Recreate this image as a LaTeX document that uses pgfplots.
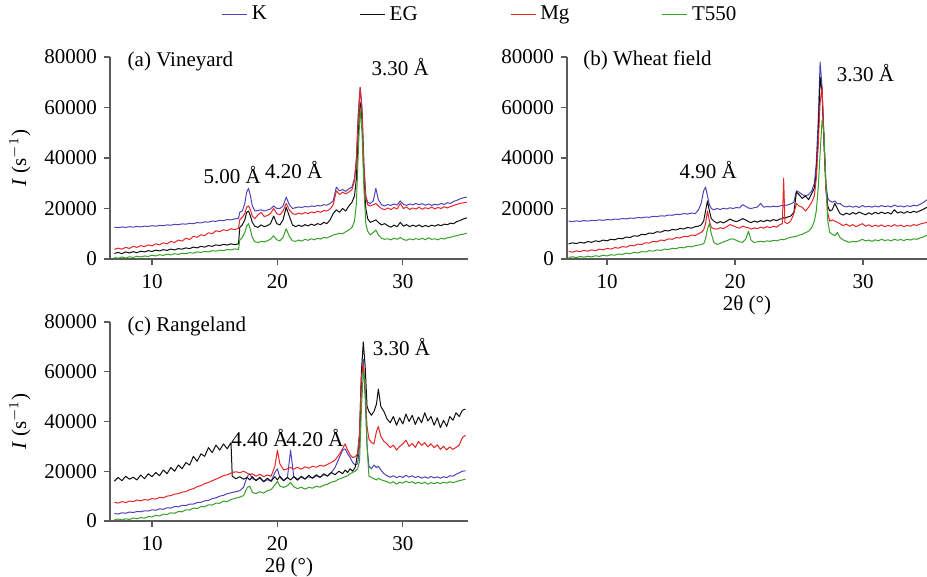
\documentclass[border=0pt]{standalone}
\usepackage{fontspec}
\setmainfont{Liberation Serif}
\usepackage{pgfplots}
\usepackage{pgfplotstable}
\pgfplotsset{compat=1.18}

\definecolor{cK}{RGB}{78,68,185}
\definecolor{cEG}{RGB}{15,15,15}
\definecolor{cMg}{RGB}{228,38,38}
\definecolor{cT}{RGB}{55,160,40}
\definecolor{axgray}{RGB}{90,90,90}

\newcommand{\lblfont}{\rmfamily\fontsize{10.5}{12}\selectfont}

% intensities in thousands of counts per second
\pgfplotstableread{
x     K     EG    Mg    T
7.0   12.6  2.2   3.8   0.6
7.3   12.4  2.6   4.3   0.3
7.6   12.7  2.1   3.9   0.8
7.9   12.5  2.8   4.6   0.4
8.2   12.8  2.4   4.2   0.9
8.5   12.6  2.9   5.0   0.6
8.8   12.9  2.5   4.6   1.1
9.1   12.7  3.1   5.3   0.8
9.4   13.0  2.8   4.9   1.2
9.7   12.9  3.3   5.6   1.0
10.0  13.2  3.0   5.2   1.5
10.3  13.0  3.5   6.0   1.2
10.6  13.3  3.2   5.6   1.7
10.9  13.2  3.7   6.4   1.4
11.2  13.5  3.4   6.0   1.9
11.5  13.4  3.9   7.0   1.6
11.8  13.7  3.6   6.5   2.1
12.1  13.6  4.1   7.5   1.8
12.4  13.9  3.9   7.1   2.3
12.7  13.8  4.4   8.2   2.1
13.0  14.1  4.1   7.7   2.5
13.3  14.0  4.7   9.0   2.3
13.6  14.4  4.4   8.6   2.8
13.9  14.3  5.0   9.6   2.6
14.2  14.7  4.7   9.2   3.0
14.5  14.6  5.3   10.4  2.8
14.8  15.0  5.0   10.0  3.3
15.1  14.9  5.6   11.2  3.1
15.4  15.3  5.3   10.8  3.5
15.7  15.2  5.8   11.6  3.3
16.0  15.6  5.5   11.2  3.8
16.3  15.5  6.0   12.0  3.6
16.6  15.9  5.7   11.6  4.0
16.9  16.0  6.0   12.2  3.8
17.0  18.5  12.5  15.5  7.5
17.2  19.0  13.5  16.5  8.5
17.4  22.0  15.5  18.0  10.5
17.55 26.5  18.5  20.5  13.0
17.7  28.0  19.0  21.0  14.0
17.85 25.0  17.0  19.5  11.5
18.0  21.0  14.5  17.0  8.5
18.2  19.0  13.0  16.0  6.8
18.45 19.2  12.5  17.5  6.5
18.7  19.5  13.5  18.5  7.0
18.95 19.0  12.8  16.8  6.8
19.2  19.4  13.2  17.2  7.2
19.45 19.8  14.0  18.0  7.8
19.7  21.0  17.0  20.0  9.2
19.95 20.0  14.0  18.0  7.6
20.2  20.0  13.5  17.5  7.2
20.45 21.0  15.5  19.0  8.5
20.7  24.5  20.5  22.0  12.0
20.95 21.5  17.0  19.5  9.0
21.2  20.0  13.5  18.0  7.2
21.45 20.3  12.8  17.6  7.0
21.7  20.6  13.4  18.2  7.5
21.95 20.4  12.9  17.8  7.1
22.2  20.8  13.6  18.4  7.8
22.45 20.6  13.1  18.0  7.4
22.7  21.0  13.8  18.6  8.0
22.95 20.8  13.3  18.3  7.6
23.2  21.2  14.0  18.9  8.2
23.45 21.0  13.6  18.5  7.9
23.7  21.5  14.5  19.2  8.6
23.95 21.3  14.0  19.0  8.3
24.2  22.0  15.5  19.8  8.9
24.45 23.0  18.0  21.5  9.5
24.7  28.5  19.5  27.0  9.8
24.95 27.0  18.5  25.5  10.2
25.2  27.5  20.0  26.5  10.0
25.45 26.8  19.0  25.8  10.8
25.7  27.8  21.0  26.5  11.5
25.95 28.5  22.5  27.5  12.5
26.15 32.0  25.0  31.0  15.0
26.3  40.0  32.0  39.0  22.0
26.45 58.0  50.0  56.0  42.0
26.6  68.0  62.0  68.0  60.0
26.75 60.0  55.0  58.0  50.0
26.9  38.0  32.0  36.0  28.0
27.05 25.0  20.0  24.0  14.0
27.2  22.5  16.0  21.5  11.0
27.4  22.0  14.5  21.0  9.5
27.65 23.0  15.0  21.5  10.5
27.85 28.0  15.5  22.0  11.5
28.05 23.5  14.5  21.0  9.5
28.3  21.5  13.5  20.0  8.2
28.55 21.0  14.0  19.5  7.8
28.8  21.6  13.2  20.2  8.0
29.05 21.2  12.6  19.6  7.6
29.3  21.8  13.4  20.4  8.2
29.55 21.4  12.8  19.8  7.8
29.8  23.0  14.5  22.0  8.5
30.05 21.6  13.0  20.0  7.7
30.3  21.2  13.6  20.6  7.4
30.55 21.8  12.8  19.6  8.0
30.8  21.4  13.4  20.2  7.6
31.05 22.0  12.9  19.8  8.1
31.3  21.5  13.5  20.5  7.7
31.55 21.9  12.7  19.7  8.2
31.8  21.3  13.3  20.3  7.6
32.05 21.8  12.8  19.9  8.4
32.3  21.2  13.4  20.6  7.8
32.55 21.7  13.0  19.8  8.0
32.8  21.4  13.6  20.4  7.6
33.05 22.0  13.2  20.0  8.2
33.3  21.6  13.8  20.7  7.9
33.55 22.3  13.6  20.2  8.4
33.8  22.0  14.2  20.8  8.6
34.05 22.8  14.0  21.2  9.0
34.3  23.2  14.8  21.6  9.2
34.55 23.8  15.2  22.0  9.6
34.8  24.2  15.8  22.2  9.8
35.1  24.5  16.3  22.5  10.2
}\tabA

\pgfplotstableread{
x     K     EG    Mg    T
7.0   15.0  6.0   3.0   0.6
7.3   14.8  6.4   2.7   0.9
7.6   15.1  6.1   3.2   0.5
7.9   14.9  6.6   2.9   1.0
8.2   15.2  6.3   3.4   0.7
8.5   15.0  6.9   3.1   1.1
8.8   15.3  6.6   3.6   0.8
9.1   15.2  7.2   3.3   1.3
9.4   15.5  6.9   3.9   1.0
9.7   15.3  7.5   3.6   1.5
10.0  15.6  7.2   4.2   1.2
10.3  15.5  7.8   3.9   1.7
10.6  15.8  7.6   4.5   1.5
10.9  15.7  8.2   4.3   2.0
11.2  16.0  8.0   4.9   1.8
11.5  15.9  8.7   4.7   2.3
11.8  16.2  8.5   5.4   2.1
12.1  16.1  9.2   5.2   2.6
12.4  16.4  9.0   5.9   2.4
12.7  16.3  9.8   5.7   2.9
13.0  16.6  9.6   6.4   2.8
13.3  16.5  10.3  6.3   3.3
13.6  16.9  10.1  7.0   3.1
13.9  16.8  10.8  6.8   3.6
14.2  17.1  10.6  7.5   3.4
14.5  17.0  11.3  7.3   3.9
14.8  17.4  11.1  8.0   3.8
15.1  17.3  11.7  7.8   4.2
15.4  17.7  11.5  8.5   4.1
15.7  17.6  12.1  8.3   4.6
16.0  18.0  11.9  9.0   4.4
16.3  17.8  12.5  8.8   5.0
16.6  18.2  12.2  9.5   4.8
16.9  18.0  12.8  9.3   5.3
17.15 19.5  13.0  10.0  5.5
17.35 22.0  13.5  10.5  5.8
17.55 27.0  15.0  11.5  6.0
17.7  28.5  19.0  14.0  8.0
17.85 25.0  23.0  19.0  12.0
18.0  21.5  19.0  15.0  14.0
18.15 20.0  16.0  12.5  10.0
18.35 19.5  15.0  12.0  6.5
18.6  20.0  14.2  11.8  5.8
18.85 19.6  14.8  12.4  6.2
19.1  20.1  14.3  12.0  6.8
19.35 19.8  15.0  12.8  7.2
19.6  20.3  15.8  13.6  7.8
19.85 20.0  15.2  13.2  8.0
20.1  20.4  14.8  12.6  7.4
20.35 20.2  15.3  12.2  6.8
20.6  21.5  16.0  13.0  6.6
20.85 20.8  15.4  12.6  8.0
21.05 20.2  14.8  12.4  11.0
21.25 20.0  14.4  11.8  7.5
21.5  20.3  15.0  12.3  6.5
21.75 20.6  14.6  12.0  6.8
22.0  22.0  15.2  12.6  7.0
22.25 20.5  14.8  12.2  6.8
22.5  20.8  15.4  12.8  7.2
22.75 20.6  15.0  12.4  7.0
23.0  20.9  15.6  13.0  7.4
23.25 20.7  15.2  12.6  7.2
23.5  21.0  15.8  13.6  7.6
23.7  21.2  16.0  14.0  7.8
23.8  21.0  16.4  32.0  7.6
23.9  21.2  16.2  14.5  7.8
24.1  21.4  16.6  14.0  8.2
24.35 21.8  17.0  15.0  8.6
24.6  22.5  18.5  18.0  8.8
24.8  27.0  26.5  22.0  9.0
25.0  26.5  25.5  21.0  9.4
25.25 25.5  24.0  20.5  9.8
25.5  25.0  25.0  19.0  10.4
25.75 25.5  23.5  20.5  11.0
26.0  27.0  26.0  22.5  12.5
26.2  30.0  28.0  25.0  15.0
26.35 38.0  34.0  32.0  19.0
26.5  55.0  48.0  45.0  28.0
26.65 78.0  72.0  62.0  42.0
26.8  68.0  66.0  68.0  55.0
26.95 45.0  48.0  48.0  50.0
27.1  30.0  28.0  28.0  30.0
27.25 24.0  21.0  18.0  15.0
27.4  23.0  19.0  15.0  10.5
27.6  22.5  19.5  15.5  9.8
27.8  23.0  22.0  15.0  9.2
28.0  21.8  20.0  14.5  10.5
28.2  22.0  18.0  14.0  8.5
28.45 21.0  17.4  13.2  7.6
28.7  20.6  18.2  13.8  7.0
28.95 21.0  17.6  13.0  6.6
29.2  20.5  18.4  13.6  7.0
29.45 20.9  17.8  12.8  6.8
29.7  20.4  18.6  13.4  7.2
29.95 21.2  18.0  14.0  7.8
30.2  20.6  17.5  13.0  7.2
30.45 20.9  18.3  13.5  7.5
30.7  20.5  17.7  12.8  7.0
30.95 21.0  18.5  13.4  7.6
31.2  20.6  17.9  12.9  7.2
31.45 21.2  18.6  13.5  7.8
31.7  20.7  18.0  12.8  7.3
31.95 21.0  18.4  13.3  7.6
32.2  20.6  17.8  12.9  7.2
32.45 21.4  19.5  13.6  7.8
32.7  20.8  18.2  13.0  7.4
32.95 21.0  18.7  13.4  7.7
33.2  20.6  18.1  12.8  7.3
33.45 21.1  18.8  13.3  7.8
33.7  20.8  18.3  13.0  7.5
33.95 21.3  18.9  13.6  8.0
34.2  21.0  18.5  13.3  7.8
34.5  21.8  19.2  13.9  8.4
34.75 22.5  19.8  14.2  8.8
35.0  23.5  20.5  14.5  9.5
}\tabB

\pgfplotstableread{
x     K     EG    Mg    T
7.0   3.0   16.0  7.5   0.5
7.3   2.8   17.5  7.2   0.8
7.6   3.3   16.2  7.8   0.4
7.9   3.1   18.0  7.4   0.9
8.2   3.6   16.8  8.0   0.6
8.5   3.4   17.6  7.8   1.2
8.8   3.8   16.5  8.4   0.9
9.1   3.7   18.5  8.1   1.4
9.4   4.1   17.0  8.6   1.1
9.7   4.0   19.0  8.4   1.8
10.0  4.5   17.8  9.0   1.6
10.3  4.3   19.5  8.8   2.3
10.6  4.9   18.2  9.5   2.0
10.9  4.7   20.5  9.3   2.8
11.2  5.3   19.0  10.0  2.6
11.5  5.2   21.5  10.2  3.3
11.8  5.8   20.0  10.8  3.1
12.1  5.7   22.5  11.0  3.8
12.4  6.3   21.0  11.6  3.7
12.7  6.2   23.5  11.8  4.5
13.0  6.8   22.5  12.6  4.4
13.3  6.8   26.0  13.0  5.2
13.6  7.4   24.0  13.8  5.0
13.9  7.5   27.0  14.2  5.8
14.2  8.1   26.0  15.0  5.7
14.5  8.3   29.5  15.5  6.5
14.8  9.0   27.5  16.2  6.4
15.1  9.3   30.5  16.8  7.2
15.4  10.0  28.5  17.5  7.1
15.7  10.3  31.0  18.2  8.0
16.0  11.0  29.0  18.6  7.8
16.3  11.3  31.5  19.2  8.6
16.4  11.5  18.0  19.5  8.8
16.7  11.8  17.0  19.8  9.2
17.0  12.2  17.8  19.4  9.6
17.3  13.5  16.8  20.0  10.2
17.6  18.0  17.5  19.2  13.5
17.8  19.0  16.5  18.6  14.0
18.0  17.0  17.8  19.0  11.5
18.3  16.5  16.2  18.0  11.0
18.6  17.2  17.6  18.8  11.8
18.9  15.8  15.8  17.8  11.2
19.2  16.6  17.2  18.5  12.2
19.5  16.0  16.0  18.0  12.6
19.8  19.5  17.8  22.0  14.5
20.0  21.0  16.5  28.5  16.0
20.2  17.5  18.0  23.0  14.0
20.5  16.2  16.2  20.5  13.5
20.8  17.5  17.5  21.0  14.2
21.05 28.5  16.5  21.5  15.5
21.3  18.0  17.8  20.8  13.8
21.6  16.8  16.4  21.6  13.0
21.9  17.6  18.0  20.8  13.6
22.2  17.0  16.8  21.8  12.8
22.5  17.8  18.4  21.2  13.5
22.8  17.2  17.2  22.0  13.2
23.1  18.2  18.6  21.6  14.0
23.4  17.6  17.5  22.4  13.6
23.7  18.6  19.0  22.0  14.4
24.0  18.2  18.0  22.8  14.8
24.3  19.5  19.5  23.5  15.6
24.6  21.5  18.6  24.5  16.0
24.9  25.0  20.0  26.5  16.8
25.2  28.5  19.0  29.0  17.4
25.4  29.0  20.5  31.0  17.8
25.6  27.0  19.5  28.5  18.2
25.8  25.5  21.0  26.5  19.0
26.0  23.5  20.0  25.5  19.5
26.2  22.5  21.5  25.8  20.0
26.4  23.0  27.0  27.0  21.0
26.55 30.0  35.0  35.0  24.0
26.7  55.0  60.0  58.0  45.0
26.85 65.0  72.0  63.0  60.0
27.0  50.0  62.0  52.0  55.0
27.15 30.0  46.0  38.0  30.0
27.3  22.0  44.0  33.0  18.0
27.5  21.0  42.5  31.5  17.5
27.7  22.5  44.0  31.0  17.0
27.9  21.5  47.0  36.0  16.5
28.05 22.0  53.0  38.0  17.2
28.25 20.5  46.0  34.0  16.6
28.5  19.0  44.0  32.0  16.2
28.75 18.2  41.0  31.0  15.8
29.0  17.6  39.5  29.5  15.2
29.25 18.2  42.0  30.5  15.8
29.5  17.4  38.5  28.5  14.8
29.75 18.0  41.5  30.0  15.6
30.0  17.5  39.0  31.0  15.2
30.25 18.4  43.0  32.5  16.0
30.5  17.6  40.0  30.0  15.4
30.75 18.2  42.5  31.2  15.8
31.0  17.4  38.8  29.6  15.0
31.25 18.0  41.8  32.0  15.6
31.5  17.2  39.5  30.4  15.0
31.75 17.8  43.5  31.5  15.6
32.0  17.2  40.2  29.8  14.8
32.25 17.9  42.0  31.0  15.4
32.5  17.3  38.5  29.5  15.0
32.75 17.8  41.5  30.6  15.5
33.0  17.2  37.5  28.8  15.0
33.25 17.8  40.5  30.0  15.6
33.5  17.4  38.0  28.6  15.2
33.75 18.2  42.0  29.8  15.8
34.0  18.0  40.5  28.8  15.4
34.25 18.8  43.5  29.6  15.8
34.5  19.4  42.0  30.5  16.2
34.75 20.0  44.5  33.5  16.5
35.0  20.2  45.0  34.5  16.8
}\tabC

\pgfplotsset{
  xrdpanel/.style={
    scale only axis,
    axis lines*=left,
    axis line style={axgray, line width=0.6pt},
    tick style={axgray, line width=0.6pt},
    tick align=outside,
    major tick length=3pt,
    ymin=0, ymax=80,
    ytick={0,20,40,60,80},
    yticklabels={\mbox{0},\mbox{20000},\mbox{40000},\mbox{60000},\mbox{80000}},
    xtick={10,20,30},
    xticklabels={\mbox{10},\mbox{20},\mbox{30}},
    xticklabel style={yshift=-1pt},
    tick label style={font=\lblfont},
    label style={font=\lblfont},
    xlabel style={yshift=3pt},
    every axis plot/.append style={line width=0.5pt, line join=round},
    clip=false,
  },
}

\begin{document}
\begin{tikzpicture}[font=\rmfamily]
\useasboundingbox (0,0) rectangle (463.5pt,288.5pt);

% (a) Vineyard
\begin{axis}[xrdpanel,
  at={(55pt,159pt)}, anchor=south west,
  width=179pt, height=101pt,
  xmin=6.65, xmax=35.2,
  ylabel={\textit{I} (s$^{-1}$)},
  legend columns=4,
  legend style={at={(1.036,1.21)}, anchor=center, draw=none, fill=none,
    font=\lblfont,
    /tikz/every even column/.append style={column sep=44pt}},
  legend image code/.code={\draw[#1, line width=0.8pt] (0pt,0pt) -- (12.5pt,0pt);},
]
\addplot[cK]  table[x=x, y=K]  {\tabA};
\addlegendentry{K}
\addplot[cEG] table[x=x, y=EG] {\tabA};
\addlegendentry{EG}
\addplot[cMg] table[x=x, y=Mg] {\tabA};
\addlegendentry{Mg}
\addplot[cT]  table[x=x, y=T]  {\tabA};
\addlegendentry{T550}
\node[anchor=west, font=\lblfont] at (axis cs:7.5,78.4) {(a) Vineyard};
\node[font=\lblfont] at (axis cs:29.8,76) {3.30 Å};
\node[font=\lblfont] at (axis cs:16.4,33.3) {5.00 Å};
\node[font=\lblfont] at (axis cs:21.3,35.2) {4.20 Å};
\end{axis}

% (b) Wheat field
\begin{axis}[xrdpanel,
  at={(283.5pt,159pt)}, anchor=south west,
  width=180pt, height=101pt,
  xmin=6.875, xmax=35,
  xlabel={2θ (°)},
]
\addplot[cK]  table[x=x, y=K]  {\tabB};
\addplot[cEG] table[x=x, y=EG] {\tabB};
\addplot[cMg] table[x=x, y=Mg] {\tabB};
\addplot[cT]  table[x=x, y=T]  {\tabB};
\node[anchor=west, font=\lblfont] at (axis cs:7.6,78.8) {(b) Wheat field};
\node[font=\lblfont] at (axis cs:30.2,73.7) {3.30 Å};
\node[font=\lblfont] at (axis cs:17.9,35.2) {4.90 Å};
\end{axis}

% (c) Rangeland
\begin{axis}[xrdpanel,
  at={(55pt,28pt)}, anchor=south west,
  width=179pt, height=99.5pt,
  xmin=6.65, xmax=35.2,
  xlabel={2θ (°)},
  ylabel={\textit{I} (s$^{-1}$)},
]
\addplot[cK]  table[x=x, y=K]  {\tabC};
\addplot[cEG] table[x=x, y=EG] {\tabC};
\addplot[cMg] table[x=x, y=Mg] {\tabC};
\addplot[cT]  table[x=x, y=T]  {\tabC};
\node[anchor=west, font=\lblfont] at (axis cs:7.5,78) {(c) Rangeland};
\node[font=\lblfont] at (axis cs:29.9,70) {3.30 Å};
\node[font=\lblfont] at (axis cs:18.6,33.4) {4.40 Å};
\node[font=\lblfont] at (axis cs:23.0,33.4) {4.20 Å};
\end{axis}
\end{tikzpicture}
\end{document}
